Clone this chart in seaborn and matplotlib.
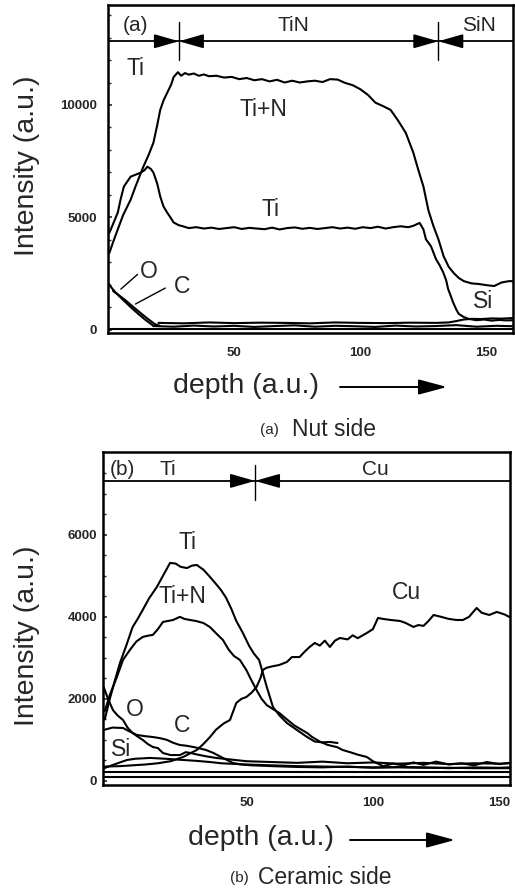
import numpy as np
import pandas as pd
import matplotlib
matplotlib.use('Agg')
import matplotlib.pyplot as plt
import seaborn as sns

# ---------- dados (perfil de profundidade) ----------
# (a) lado da porca
tin_a_x = [0.5, 2, 4, 6, 9, 11, 14, 16, 18, 19.5, 20.7, 22, 23.4, 25, 26, 27.7, 29, 30.5,
           32, 34, 36, 38, 40, 43, 46, 49, 52, 55, 58, 61, 64, 67, 70, 73, 76, 79, 82, 85,
           88, 91, 94, 97, 100, 103, 106, 109, 112, 115, 118, 121, 123, 125, 127, 129, 131,
           133, 135, 137, 139, 141, 144, 147, 150, 153, 156, 159, 161]
tin_a_y = [3400, 3890, 4500, 5100, 5790, 6400, 7250, 7750, 8320, 9100, 9780, 10200, 10530,
           10900, 11240, 11460, 11300, 11420, 11350, 11400, 11300, 11360, 11280, 11300, 11220,
           11250, 11150, 11200, 11100, 11150, 11050, 11120, 11000, 11080, 11000, 11050, 11080,
           11020, 11150, 11130, 10980, 10880, 10700, 10450, 10100, 9950, 9780, 9300, 8760,
           7875, 7100, 6370, 5300, 4600, 4000, 3267, 2800, 2520, 2300, 2160, 2060, 2030, 1980,
           1940, 2100, 2160, 2150]

ti_a_x = [0.5, 2, 3.9, 5, 6.3, 8, 9, 11, 13, 14.5, 15.6, 17, 18, 19.5, 20.7, 22, 23.4, 25,
          26, 28, 29.7, 32, 35, 38, 41, 44, 47, 50, 53, 56, 59, 62, 65, 68, 71, 74, 77, 80,
          83, 86, 89, 92, 95, 98, 101, 104, 107, 110, 113, 116, 119, 121, 123.5, 125, 126,
          128, 130, 131.5, 132.8, 134, 134.8, 136, 136.7, 138, 139, 141, 143, 146, 149, 152,
          155, 158, 161]
ti_a_y = [4300, 4700, 5220, 5800, 6370, 6650, 6810, 6900, 6990, 7100, 7255, 7150, 6990, 6500,
          5925, 5480, 5220, 4950, 4770, 4650, 4600, 4520, 4560, 4500, 4540, 4480, 4520, 4560,
          4480, 4530, 4500, 4470, 4540, 4460, 4520, 4550, 4490, 4530, 4480, 4520, 4560, 4500,
          4540, 4490, 4560, 4520, 4580, 4500, 4560, 4600, 4560, 4620, 4750, 4460, 4020, 3710,
          3134, 2850, 2558, 2200, 1805, 1450, 1230, 900, 700, 560, 476, 420, 450, 400, 430,
          410, 420]

o_a_x = [0.3, 1.2, 3, 6, 9, 12, 15, 18]
o_a_y = [2050, 1894, 1650, 1320, 1000, 700, 420, 170]
c_a_x = [2, 4, 7, 10, 13, 16, 18.5, 20.5]
c_a_y = [1720, 1560, 1300, 1010, 730, 460, 250, 170]

si_a_x = [20, 30, 40, 50, 60, 70, 80, 90, 100, 110, 120, 130, 135, 138, 141, 144, 148, 152, 156, 161]
si_a_y = [300, 280, 320, 290, 310, 300, 280, 320, 300, 290, 310, 300, 320, 380, 450, 480, 470, 500, 490, 520]

base_a_x = [18, 26, 34, 42, 50, 58, 66, 74, 82, 90, 98, 106, 114, 122, 130, 138, 146, 154, 161]
base_a_y = [160, 130, 180, 140, 170, 120, 160, 190, 130, 170, 150, 120, 180, 140, 160, 200, 130, 170, 150]
base_a2_x = [0, 161]
base_a2_y = [10, 10]

# (b) lado cerâmico
ti_b_x = [-6, -4, -2, 0, 2.5, 5, 7, 9, 11.5, 14.6, 17, 19.8, 22, 24, 26.5, 28.5, 30.4, 33,
          35.6, 38, 40, 42, 44, 46, 48.6, 51, 53, 55, 56.5, 58, 60.5, 63, 66, 70, 74, 77, 80,
          83, 86]
ti_b_y = [1500, 2000, 2450, 2876, 3300, 3750, 3950, 4168, 4450, 4730, 5000, 5315, 5300, 5220,
          5190, 5250, 5265, 5150, 4973, 4800, 4650, 4460, 4200, 3900, 3607, 3300, 3100, 2950,
          2630, 2300, 1802, 1600, 1412, 1240, 1070, 960, 940, 950, 924]

tin_b_x = [-6, -4, -1.2, 1.2, 4, 6.5, 9, 11, 13, 15, 17, 19, 21, 23.7, 25.5, 27.7, 30, 33,
           35.6, 38, 40.7, 43, 45, 47.4, 50, 52, 54, 56, 58, 60.5, 63, 66, 69, 72, 74, 76, 79,
           82, 86, 88, 91, 94, 97.6, 100, 104, 108, 112, 116, 120, 125, 130, 135, 140, 145,
           150, 154]
tin_b_y = [1700, 2100, 2534, 2950, 3200, 3400, 3510, 3540, 3560, 3700, 3876, 3900, 3924, 4000,
           3950, 3924, 3900, 3850, 3750, 3600, 3437, 3200, 3050, 2950, 2700, 2450, 2217, 2000,
           1850, 1750, 1656, 1500, 1350, 1240, 1168, 1070, 960, 880, 820, 754, 700, 640, 583,
           480, 360, 420, 380, 450, 390, 470, 400, 430, 380, 460, 410, 440]

cu_b_x = [-6, 0, 5, 10, 15, 20, 25, 28, 30.4, 33, 35.6, 38, 41, 43.5, 46, 48, 50, 52, 54,
          55.5, 56.5, 58, 60, 63, 66, 68, 71, 73, 75, 77, 79, 81, 83, 85, 87, 90, 92, 94,
          97.6, 100, 102, 104, 107, 110.7, 113, 116, 118, 120, 122, 124, 127, 130, 133,
          135.6, 138, 141, 143, 146, 149, 152, 154]
cu_b_y = [350, 360, 380, 400, 430, 480, 583, 680, 754, 900, 1070, 1250, 1400, 1485, 1900,
          2000, 2046, 2150, 2290, 2500, 2705, 2760, 2790, 2827, 2900, 3020, 3020, 3150, 3266,
          3363, 3300, 3420, 3266, 3420, 3485, 3450, 3550, 3480, 3607, 3700, 3973, 3950, 3924,
          3900, 3850, 3754, 3800, 3780, 3900, 4046, 4000, 3950, 3924, 3924, 4000, 4217, 4100,
          4046, 4120, 4060, 3997]

o_b_x = [-6.5, -5, -2.8, -1, 1.2, 3, 5, 7, 9, 11, 13, 15, 17, 20, 23.7, 26, 28, 30, 34, 38,
         44, 50, 60, 70, 80, 90, 100, 110, 120, 130, 140, 150, 154]
o_b_y = [2300, 2046, 1730, 1600, 1485, 1300, 1168, 1080, 1000, 900, 827, 800, 680, 630, 630,
         700, 680, 650, 600, 560, 520, 480, 460, 440, 470, 430, 450, 420, 440, 410, 430, 420, 430]

c_b_x = [-6.5, -3, 1.2, 4, 6.7, 10, 13, 16, 18.6, 21, 23.7, 26, 29, 31, 34, 37, 40.7, 44.7,
         48, 52, 60, 70, 80, 90, 100, 110, 120, 130, 140, 150, 154]
c_b_y = [1240, 1300, 1290, 1200, 1120, 1090, 1070, 1040, 1000, 930, 875, 860, 827, 800, 754,
         680, 560, 437, 400, 380, 360, 340, 330, 350, 320, 340, 330, 310, 330, 320, 330]

si_b_x = [-6.5, -5, 0, 2.8, 6, 11.9, 18, 25, 30, 35.6, 40, 50, 60, 70, 80, 90, 100, 110, 120,
          130, 140, 150, 154]
si_b_y = [300, 340, 450, 510, 540, 560, 540, 510, 490, 460, 430, 400, 380, 360, 350, 340, 330,
          330, 320, 320, 310, 310, 310]

base_b_x = [-6.5, 154]
base_b_y = [217, 217]
base_b2_x = [-6.5, 154]
base_b2_y = [90, 90]

# ---------- figura ----------
sns.set_style('white')
plt.rcParams['font.family'] = ['Liberation Sans', 'DejaVu Sans']

W, H = 515, 892
fig = plt.figure(figsize=(W / 100, H / 100), dpi=100)


def box(l, t, r, b):
    return [l / W, 1 - b / H, (r - l) / W, (b - t) / H]


ax_a = fig.add_axes(box(108, 5, 513, 333))
ax_b = fig.add_axes(box(103, 452, 510, 785))

lw = 1.5
kw = dict(color='black', linewidth=lw, estimator=None, sort=False, legend=False)

for xs, ys in [(tin_a_x, tin_a_y), (ti_a_x, ti_a_y), (o_a_x, o_a_y), (c_a_x, c_a_y),
               (si_a_x, si_a_y), (base_a_x, base_a_y), (base_a2_x, base_a2_y)]:
    sns.lineplot(x=xs, y=ys, ax=ax_a, **kw)

for xs, ys in [(ti_b_x, ti_b_y), (tin_b_x, tin_b_y), (cu_b_x, cu_b_y), (o_b_x, o_b_y),
               (c_b_x, c_b_y), (si_b_x, si_b_y), (base_b_x, base_b_y), (base_b2_x, base_b2_y)]:
    sns.lineplot(x=xs, y=ys, ax=ax_b, **kw)

ax_a.set_xlim(0, 160.5)
ax_a.set_ylim(-150, 14450)
ax_b.set_xlim(-6.7, 154.2)
ax_b.set_ylim(-100, 8020)

ax_a.set_xticks([50, 100, 150])
ax_a.set_yticks([0, 5000, 10000])
ax_a.set_yticks(np.arange(1000, 14001, 1000), minor=True)
ax_b.set_xticks([50, 100, 150])
ax_b.set_yticks([0, 2000, 4000, 6000])
ax_b.set_yticks(np.arange(500, 8000, 500), minor=True)

for ax, xpad, ypad in [(ax_a, 10, 8), (ax_b, 8.6, 4.3)]:
    ax.set_xlabel('')
    ax.set_ylabel('')
    for s in ax.spines.values():
        s.set_linewidth(1.8)
        s.set_color('black')
    ax.tick_params(axis='x', which='major', direction='in', length=0, pad=xpad, labelsize=9.5)
    ax.tick_params(axis='y', which='major', direction='in', length=3, width=1.2,
                   pad=ypad, labelsize=9.5, left=True)
    ax.tick_params(axis='y', which='minor', direction='in', length=2, width=1.0, left=True)
    for t in ax.get_xticklabels() + ax.get_yticklabels():
        t.set_fontweight('bold')
    ax.grid(False)

# ---------- faixa superior com as regiões ----------
head = dict(color='black', lw=1.3, shrinkA=0, shrinkB=0, mutation_scale=10)


def band(ax, y, ytxt, dividers, hl, hw):
    ax.axhline(y, color='black', lw=1.3)
    for d in dividers:
        ax.plot([d, d], ytxt, color='black', lw=1.0)
        ax.annotate('', xy=(d, y), xytext=(d - hl, y),
                    arrowprops=dict(arrowstyle=f'-|>,head_length={hw[0]},head_width={hw[1]}', **head))
        ax.annotate('', xy=(d, y), xytext=(d + hl, y),
                    arrowprops=dict(arrowstyle=f'-|>,head_length={hw[0]},head_width={hw[1]}', **head))


band(ax_a, 12837, [11996, 13680], [28.1, 130.9], 8.2, (1.5, 0.43))
band(ax_b, 7315, [6851, 7705], [53.4], 8.5, (1.5, 0.43))

tfs = 15
ax_a.text(10.9, 13546, '(a)', ha='center', va='center', fontsize=tfs)
ax_a.text(73.4, 13546, 'TiN', ha='center', va='center', fontsize=tfs)
ax_a.text(146.9, 13546, 'SiN', ha='center', va='center', fontsize=tfs)
ax_b.text(0.8, 7583, '(b)', ha='center', va='center', fontsize=tfs)
ax_b.text(19.0, 7583, 'Ti', ha='center', va='center', fontsize=tfs)
ax_b.text(100.8, 7583, 'Cu', ha='center', va='center', fontsize=tfs)

# ---------- rótulos das curvas ----------
lfs = 16.5
ax_a.text(10.9, 11641, 'Ti', ha='center', va='center', fontsize=lfs)
ax_a.text(61.7, 9780, 'Ti+N', ha='center', va='center', fontsize=lfs)
ax_a.text(64.5, 5350, 'Ti', ha='center', va='center', fontsize=lfs)
ax_a.text(16.0, 2603, 'O', ha='center', va='center', fontsize=lfs)
ax_a.text(29.3, 1938, 'C', ha='center', va='center', fontsize=lfs)
ax_a.text(148.6, 1230, 'Si', ha='center', va='center', fontsize=lfs)
ax_a.plot([5.1, 11.7], [1805, 2458], color='black', lw=1.0)
ax_a.plot([10.9, 22.7], [1140, 1850], color='black', lw=1.0)

ax_b.text(26.9, 5802, 'Ti', ha='center', va='center', fontsize=lfs)
ax_b.text(24.9, 4485, 'Ti+N', ha='center', va='center', fontsize=lfs)
ax_b.text(113.4, 4583, 'Cu', ha='center', va='center', fontsize=lfs)
ax_b.text(5.9, 1729, 'O', ha='center', va='center', fontsize=lfs)
ax_b.text(24.5, 1339, 'C', ha='center', va='center', fontsize=lfs)
ax_b.text(0.5, 754, 'Si', ha='center', va='center', fontsize=lfs)

# ---------- rótulos dos eixos ----------
afs = 20.5
fig.text(27 / W, 1 - 166 / H, 'Intensity (a.u.)', rotation=90, ha='center', va='center', fontsize=afs)
fig.text(27 / W, 1 - 636 / H, 'Intensity (a.u.)', rotation=90, ha='center', va='center', fontsize=afs)
fig.text(173 / W, 1 - 386 / H, 'depth (a.u.)', ha='left', va='center', fontsize=afs)
fig.text(188 / W, 1 - 838 / H, 'depth (a.u.)', ha='left', va='center', fontsize=afs)

arr = dict(arrowstyle='-|>,head_length=1.75,head_width=0.47', color='black', lw=1.4,
           shrinkA=0, shrinkB=0, mutation_scale=10)
fig.add_artist(matplotlib.patches.FancyArrowPatch((340 / W, 1 - 387 / H), (447 / W, 1 - 387 / H),
                                                  transform=fig.transFigure, **arr))
fig.add_artist(matplotlib.patches.FancyArrowPatch((350 / W, 1 - 840 / H), (455 / W, 1 - 840 / H),
                                                  transform=fig.transFigure, **arr))

# legendas das figuras
fig.text(260 / W, 1 - 430 / H, '(a)', ha='left', va='center', fontsize=11)
fig.text(292 / W, 1 - 430 / H, 'Nut side', ha='left', va='center', fontsize=16.5)
fig.text(230 / W, 1 - 878 / H, '(b)', ha='left', va='center', fontsize=11)
fig.text(258 / W, 1 - 878 / H, 'Ceramic side', ha='left', va='center', fontsize=16.5)

fig.savefig('out.png', dpi=100)
